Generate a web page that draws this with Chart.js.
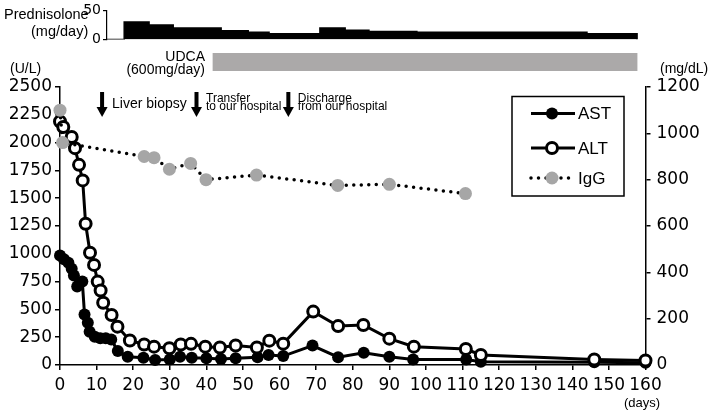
<!DOCTYPE html>
<html>
<head>
<meta charset="utf-8">
<script src="https://cdn.jsdelivr.net/npm/chart.js@4.4.1/dist/chart.umd.min.js"></script>
<style>
  html, body { margin: 0; padding: 0; background: #fff; }
  #wrap { position: relative; width: 709px; height: 415px; }
  #wrap canvas { position: absolute; left: 0; }
</style>
</head>
<body>
<div id="wrap">
  <canvas id="main" width="709" height="415" style="top:0"></canvas>
  <canvas id="pred" width="709" height="50" style="top:0"></canvas>
  <canvas id="udca" width="709" height="36" style="top:44px"></canvas>
</div>
<script>
const FONT = "'Liberation Sans', Arial, Helvetica, sans-serif";
const TICK_FONT = "'DejaVu Sans', Verdana, sans-serif";

// days since onset
const astDays = [0, 1.1, 2.3, 3.2, 3.8, 4.7, 6.1, 6.7, 7.6, 8.1, 9.5, 11, 12.5, 14, 15.8, 18.5, 22.8, 26, 30, 32.8, 36, 40, 44, 48, 54, 57, 61, 69, 76, 83, 90, 96.5, 111, 115, 146, 160];
const astValues = [985, 950, 920, 865, 805, 705, 750, 455, 380, 300, 255, 240, 240, 230, 125, 75, 65, 45, 50, 75, 65, 60, 55, 60, 70, 90, 80, 175, 70, 110, 75, 50, 50, 30, 25, 20];

const altDays = [0, 0.9, 3.2, 4.1, 5.2, 6.2, 7.0, 8.2, 9.3, 10.3, 11.1, 11.8, 14.1, 15.7, 19.1, 23, 25.7, 29.9, 33, 35.8, 39.7, 43.7, 48, 53.8, 57.2, 61, 69.2, 76, 82.9, 90, 96.7, 110.9, 115, 146, 160];
const altValues = [2190, 2140, 2050, 1950, 1800, 1660, 1270, 1010, 900, 750, 670, 560, 450, 345, 220, 185, 165, 150, 185, 190, 165, 158, 175, 158, 219, 192, 480, 350, 360, 237, 165, 144, 90, 50, 40];

const iggDays = [0, 0.7, 23, 25.7, 29.9, 35.7, 39.9, 53.7, 75.9, 90, 110.8];
const iggValues = [1100, 960, 900, 895, 845, 870, 800, 820, 775, 780, 740];

// prednisolone steps: start day of each dose
const predStart = [17.5, 24.3, 30.9, 44, 51.4, 57.1, 71, 77.9, 84.4, 97.5, 144];
const predDose = [30, 25, 20, 15, 12.5, 10, 20, 16, 14, 12.5, 10];
const predEnd = 157.7;

const udcaRange = [41.8, 157.7];

const eventDays = [11.5, 37.3, 62.4];
const eventLabels = [["Liver biopsy"], ["Transfer", "to our hospital"], ["Discharge", "from our hospital"]];

const leftTicks = [0, 250, 500, 750, 1000, 1250, 1500, 1750, 2000, 2250, 2500];
const rightTicks = [0, 200, 400, 600, 800, 1000, 1200];

const toPoints = (xs, ys) => xs.map((d, i) => ({ x: d, y: ys[i] }));

const axisGrid = { drawOnChartArea: false, color: "#000", lineWidth: 1.5, tickLength: 5 };
const axisBorder = { color: "#000", width: 1.5 };
const tickFont = { family: TICK_FONT, size: 17 };
const plain = (v) => String(v);

// ---------- main chart ----------
const notesPlugin = {
  id: "notes",
  afterDraw(chart) {
    const ctx = chart.ctx;
    const xs = chart.scales.x;
    ctx.save();
    ctx.fillStyle = "#000";
    eventDays.forEach((day, i) => {
      const px = xs.getPixelForValue(day);
      ctx.fillRect(px - 2, 92, 4, 16);
      ctx.beginPath();
      ctx.moveTo(px - 5.5, 107);
      ctx.lineTo(px + 5.5, 107);
      ctx.lineTo(px, 117);
      ctx.closePath();
      ctx.fill();
      const lines = eventLabels[i];
      if (lines.length === 1) {
        ctx.font = "14px " + FONT;
        ctx.fillText(lines[0], px + 10, 108);
      } else {
        ctx.font = "12px " + FONT;
        ctx.fillText(lines[0], px + 9.5, 101.5);
        ctx.fillText(lines[1], px + 9.5, 110);
      }
    });
    ctx.font = "14px " + FONT;
    ctx.fillText("(U/L)", 10, 73);
    ctx.fillText("(mg/dL)", 660, 73);
    ctx.font = "13px " + FONT;
    ctx.fillText("(days)", 624, 407);

    // legend box
    ctx.strokeStyle = "#000";
    ctx.lineWidth = 1.5;
    ctx.strokeRect(512, 96.5, 112, 99.5);
    const rows = [113.5, 148, 178];
    chart.data.datasets.forEach((ds, i) => {
      const y = rows[i];
      ctx.save();
      ctx.strokeStyle = "#000";
      ctx.lineWidth = ds.borderWidth;
      ctx.lineCap = ds.borderCapStyle || "butt";
      ctx.setLineDash(ds.borderDash || []);
      ctx.beginPath();
      ctx.moveTo(531, y);
      ctx.lineTo(575, y);
      ctx.stroke();
      ctx.setLineDash([]);
      ctx.beginPath();
      ctx.arc(552, y, ds.pointRadius, 0, Math.PI * 2);
      ctx.fillStyle = ds.pointBackgroundColor;
      ctx.fill();
      if (ds.pointBorderWidth > 0) {
        ctx.lineWidth = ds.pointBorderWidth;
        ctx.strokeStyle = ds.pointBorderColor;
        ctx.stroke();
      }
      ctx.restore();
      ctx.font = "17px " + FONT;
      ctx.fillStyle = "#000";
      ctx.textBaseline = "middle";
      ctx.fillText(ds.label, 578, y + 1);
    });
    ctx.restore();
  }
};

new Chart(document.getElementById("main"), {
  type: "line",
  data: {
    datasets: [
      {
        label: "AST",
        data: toPoints(astDays, astValues),
        yAxisID: "y",
        borderColor: "#000",
        borderWidth: 3,
        pointRadius: 6,
        pointBackgroundColor: "#000",
        pointBorderColor: "#000",
        pointBorderWidth: 0,
        order: 2,
        clip: false
      },
      {
        label: "ALT",
        data: toPoints(altDays, altValues),
        yAxisID: "y",
        borderColor: "#000",
        borderWidth: 3,
        pointRadius: 5.5,
        pointBackgroundColor: "#fff",
        pointBorderColor: "#000",
        pointBorderWidth: 3,
        order: 1,
        clip: false
      },
      {
        label: "IgG",
        data: toPoints(iggDays, iggValues),
        yAxisID: "y2",
        borderColor: "#000",
        borderWidth: 3.5,
        borderDash: [0, 7.5],
        borderCapStyle: "round",
        pointRadius: 6.5,
        pointBackgroundColor: "#a6a6a6",
        pointBorderColor: "#a6a6a6",
        pointBorderWidth: 0,
        order: 0,
        clip: false
      }
    ]
  },
  options: {
    responsive: false,
    animation: false,
    devicePixelRatio: 1,
    layout: { padding: { top: 87 } },
    plugins: { legend: { display: false }, tooltip: { enabled: false } },
    elements: { line: { tension: 0 } },
    scales: {
      x: {
        type: "linear",
        min: 0,
        max: 160,
        ticks: { stepSize: 10, color: "#000", font: tickFont, padding: 5, maxRotation: 0, callback: plain },
        grid: axisGrid,
        border: axisBorder,
        afterFit: (s) => { s.height = 50; }
      },
      y: {
        position: "left",
        min: 0,
        max: 2500,
        afterBuildTicks: (s) => { s.ticks = leftTicks.map((v) => ({ value: v })); },
        ticks: { color: "#000", font: tickFont, padding: 3, callback: plain },
        grid: axisGrid,
        border: axisBorder,
        afterFit: (s) => { s.width = 60; }
      },
      y2: {
        position: "right",
        min: 0,
        max: 1200,
        afterBuildTicks: (s) => { s.ticks = rightTicks.map((v) => ({ value: v })); },
        ticks: { color: "#000", font: tickFont, padding: 6, callback: plain },
        grid: axisGrid,
        border: axisBorder,
        afterFit: (s) => { s.width = 63.5; }
      }
    }
  },
  plugins: [notesPlugin]
});

// ---------- prednisolone panel ----------
const predPoints = [{ x: 12.8, y: 0 }, { x: predStart[0], y: 0 }]
  .concat(toPoints(predStart, predDose))
  .concat([{ x: predEnd, y: predDose[predDose.length - 1] }, { x: predEnd, y: 0 }]);

const predText = {
  id: "predText",
  afterDraw(chart) {
    const ctx = chart.ctx;
    ctx.save();
    ctx.fillStyle = "#000";
    ctx.font = "14.5px " + FONT;
    ctx.fillText("Prednisolone", 4, 19);
    ctx.fillText("(mg/day)", 31, 36);
    ctx.restore();
  }
};

new Chart(document.getElementById("pred"), {
  type: "line",
  data: {
    datasets: [{
      data: predPoints,
      stepped: true,
      borderColor: "#000",
      borderWidth: 1.5,
      backgroundColor: "#000",
      fill: "origin",
      pointRadius: 0
    }]
  },
  options: {
    responsive: false,
    animation: false,
    devicePixelRatio: 1,
    layout: { padding: { top: 10, bottom: 9, right: 63.5 } },
    plugins: { legend: { display: false }, tooltip: { enabled: false } },
    scales: {
      x: { type: "linear", min: 12.8, max: 160, display: false },
      y: {
        min: 0,
        max: 50,
        ticks: {
          stepSize: 25,
          color: "#000",
          font: { family: TICK_FONT, size: 14 },
          padding: 2,
          callback: (v) => (v === 25 ? "" : String(v))
        },
        grid: { drawOnChartArea: false, color: "#000", lineWidth: 1.2, tickLength: 4 },
        border: { color: "#000", width: 1.2 },
        afterFit: (s) => { s.width = 107; }
      }
    }
  },
  plugins: [predText]
});

// ---------- UDCA bar ----------
const udcaText = {
  id: "udcaText",
  afterDraw(chart) {
    const ctx = chart.ctx;
    ctx.save();
    ctx.fillStyle = "#000";
    ctx.font = "14px " + FONT;
    ctx.textAlign = "right";
    ctx.fillText("UDCA", 205, 17);
    ctx.fillText("(600mg/day)", 205, 30);
    ctx.restore();
  }
};

new Chart(document.getElementById("udca"), {
  type: "bar",
  data: {
    labels: ["UDCA"],
    datasets: [{
      data: [udcaRange],
      backgroundColor: "#aba9a9",
      barPercentage: 1,
      categoryPercentage: 1
    }]
  },
  options: {
    indexAxis: "y",
    responsive: false,
    animation: false,
    devicePixelRatio: 1,
    layout: { padding: { left: 60, right: 63.5, top: 9, bottom: 9 } },
    plugins: { legend: { display: false }, tooltip: { enabled: false } },
    scales: {
      x: { type: "linear", min: 0, max: 160, display: false },
      y: { display: false }
    }
  },
  plugins: [udcaText]
});
</script>
</body>
</html>
